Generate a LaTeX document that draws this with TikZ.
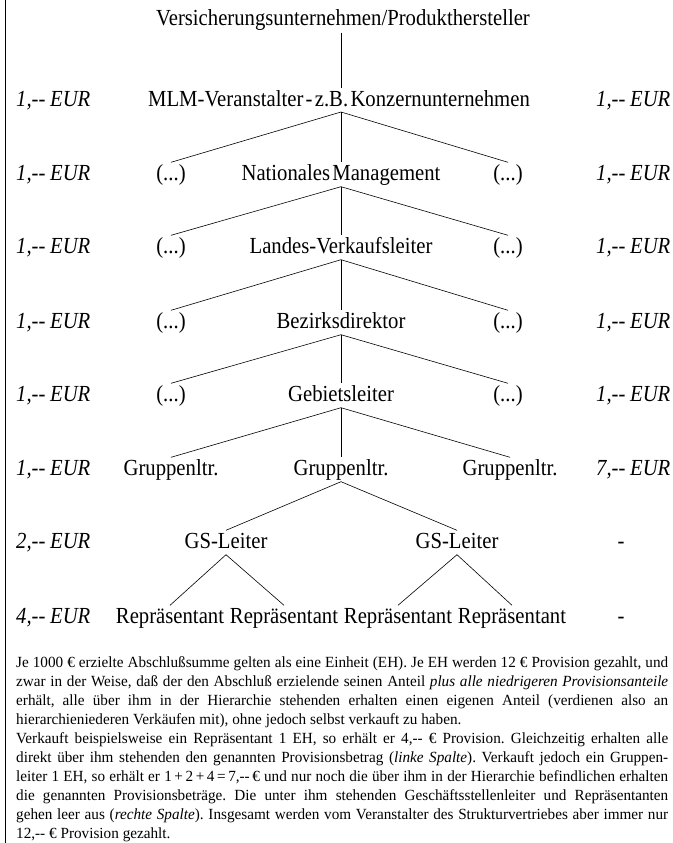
\documentclass[tikz,border=0pt]{standalone}
\usepackage{fontspec}
\setmainfont{Liberation Serif}[FakeStretch=0.9]
\newfontfamily\notefont{Liberation Serif}[FakeStretch=0.98]
\usepackage{tikz}
\usetikzlibrary{positioning}

\newcommand\rankfont{\fontsize{23}{27}\selectfont\spaceskip 0.1em\relax}
\newcommand\amountfont{\fontsize{23}{27}\selectfont\itshape\spaceskip 0.2em\relax}

\begin{document}
\begin{tikzpicture}[
  x=1pt, y=-1pt,
  rank/.style={font=\rankfont, text height=15pt, text depth=4pt, inner sep=2.5pt, anchor=base},
  amount/.style={font=\amountfont, inner sep=0pt, anchor=base west},
  link/.style={line width=0.6pt},
]
\useasboundingbox (0,0) rectangle (672,843);

% --- left margin rule ---
\draw[link] (5,0) -- (5,843);

% --- hierarchy ---
\node[rank] (title) at (343,26) {Versicherungsunternehmen/Produkthersteller};
\node[rank] (mlm) at (339,106) {MLM-Veranstalter - z.B. Konzernunternehmen};

\foreach \y/\n/\t in {180/nm/Nationales Management, 253/lvl/Landes-Verkaufsleiter,
                      328/bd/Bezirksdirektor, 401/gl/Gebietsleiter} {
  \node[rank] (\n) at (341,\y) {\t};
  \node[rank] (\n-l) at (171,\y) {(...)};
  \node[rank] (\n-r) at (508,\y) {(...)};
}
\node[rank] (gr) at (341,475) {Gruppenltr.};
\node[rank] (gr-l) at (171,475) {Gruppenltr.};
\node[rank] (gr-r) at (510,475) {Gruppenltr.};

\node[rank] (gs1) at (226,548) {GS-Leiter};
\node[rank] (gs2) at (457,548) {GS-Leiter};

\foreach \x [count=\i] in {170, 284, 398, 512}
  \node[rank] (rep\i) at (\x,623) {Repräsentant};

% connectors
\coordinate (mlm-top) at (341,88);
\coordinate (mlm-foot) at (341,112);
\draw[link] (title.south -| mlm-top) -- (mlm-top);
\draw[link] (mlm-foot) -- (nm-l.north);
\draw[link] (mlm-foot) -- (nm.north);
\draw[link] (mlm-foot) -- (nm-r.north);
\foreach \p/\c in {nm/lvl, lvl/bd, bd/gl, gl/gr} {
  \draw[link] (\p.south) -- (\c-l.north);
  \draw[link] (\p.south) -- (\c.north);
  \draw[link] (\p.south) -- (\c-r.north);
}
\draw[link] (gr.south) -- (gs1.north);
\draw[link] (gr.south) -- (gs2.north);
\draw[link] (gs1.south) -- (rep1.north);
\draw[link] (gs1.south) -- (rep2.north);
\draw[link] (gs2.south) -- (rep3.north);
\draw[link] (gs2.south) -- (rep4.north);

% --- commission columns ---
\foreach \y [count=\i] in {106, 180, 253, 328, 401, 475}
  \node[amount] (left\i) at (16,\y) {1,{-}{-} EUR};
\node[amount] (left7) at (16,548) {2,{-}{-} EUR};
\node[amount] (left8) at (16,623) {4,{-}{-} EUR};

\foreach \y [count=\i] in {106, 180, 253, 328, 401}
  \node[amount] (right\i) at (596,\y) {1,{-}{-} EUR};
\node[amount] (right6) at (596,475) {7,{-}{-} EUR};
\node[rank, inner sep=0pt] (right7) at (621,548) {-};
\node[rank, inner sep=0pt] (right8) at (621,623) {-};

% --- explanation ---
\node[anchor=base west, inner sep=0pt, text width=652pt, align=justify,
      font=\notefont\fontsize{15.5}{19}\selectfont] (note) at (16,667) {%
  \hyphenpenalty=10000 \tolerance=9999 \frenchspacing
  \spaceskip=0.25em plus 0.8em minus 0.18em\relax
  Je 1000 € erzielte Abschlußsumme gelten als eine Einheit (EH). Je EH werden 12 € Provision gezahlt, und\linebreak
  zwar in der Weise, daß der den Abschluß erzielende seinen Anteil \textit{plus alle niedrigeren Provisionsanteile}\linebreak
  erhält, alle über ihm in der Hierarchie stehenden erhalten einen eigenen Anteil (verdienen also an\linebreak
  hierarchieniederen Verkäufen mit), ohne jedoch selbst verkauft zu haben.\\
  Verkauft beispielsweise ein Repräsentant 1 EH, so erhält er 4,{-}{-} € Provision. Gleichzeitig erhalten alle\linebreak
  direkt über ihm stehenden den genannten Provisionsbetrag (\textit{linke Spalte}). Verkauft jedoch ein Gruppen-\linebreak
  leiter 1 EH, so erhält er 1\,+\,2\,+\,4\,=\,7,{-}{-}\,€ und nur noch die über ihm in der Hierarchie befindlichen erhalten\linebreak
  die genannten Provisionsbeträge. Die unter ihm stehenden Geschäftsstellenleiter und Repräsentanten\linebreak
  gehen leer aus (\textit{rechte Spalte}). Insgesamt werden vom Veranstalter des Strukturvertriebes aber immer nur\linebreak
  12,{-}{-} € Provision gezahlt.};

\end{tikzpicture}
\end{document}
